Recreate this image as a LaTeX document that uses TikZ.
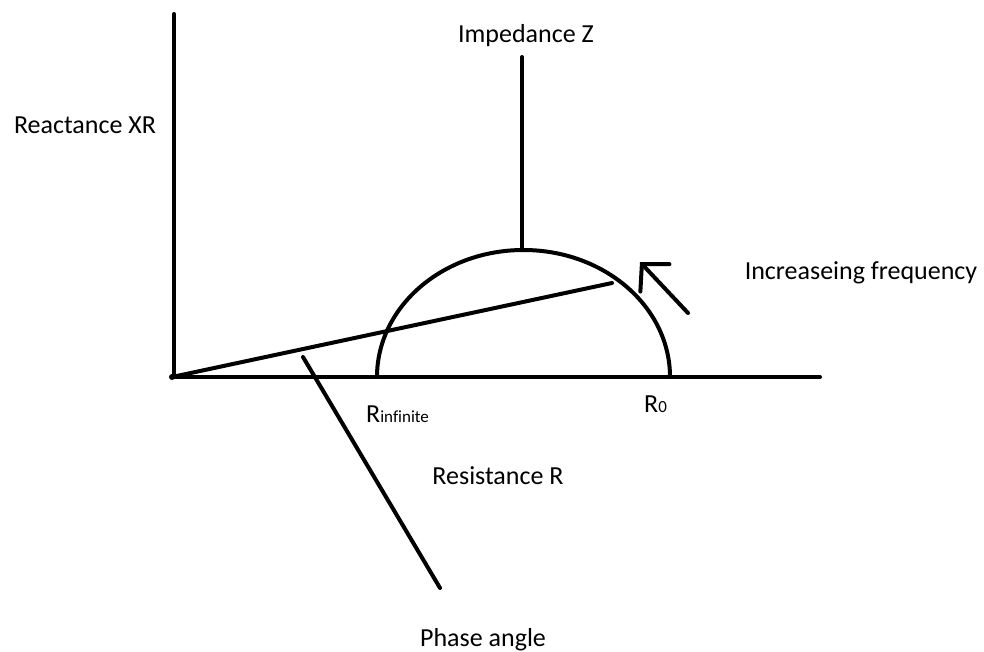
\documentclass[tikz,border=0pt]{standalone}
\usepackage{fontspec}
\setmainfont[Ligatures=NoCommon]{Carlito}
\usetikzlibrary{arrows.meta}
\newcommand{\lblsmall}{\fontsize{17}{20}\selectfont}

\begin{document}
\begin{tikzpicture}[
  x=1pt, y=-1pt,
  every node/.style={inner sep=0pt, font=\fontsize{26}{30}\selectfont},
  curve/.style={line width=4pt, line cap=round, line join=round}
]
\useasboundingbox (0,0) rectangle (984,652);
% axes
\coordinate (origin) at (172,377);
\coordinate (ytop) at (174,14);
\coordinate (xend) at (820,377);
\coordinate (rinf) at (377,377);
\coordinate (rzero) at (670,377);
\coordinate (ztop) at (522,57);
\coordinate (zbot) at (522,250);
\coordinate (vecend) at (612,283);
\coordinate (phasea) at (303,357);
\coordinate (phaseb) at (440,588);
\coordinate (arrtail) at (688,313);
\coordinate (arrtip) at (640,262);
\draw[curve] (ytop) -- (174,377);
\draw[curve] (origin) -- (xend);
\fill (origin) circle[radius=3pt];
% semicircle
\draw[curve] (rinf) arc[start angle=180, end angle=0, x radius=146.5pt, y radius=127pt];
\draw[curve] (ztop) -- (zbot);
\draw[curve] (origin) -- (vecend);
\draw[curve] (phasea) -- (phaseb);
\draw[curve, -{Straight Barb[length=19pt, width=40pt, line cap=round]}] (arrtail) -- (arrtip);
% labels
\node (react) at (85,125) {Reactance XR};
\node (imped) at (526,36) {Impedance Z};
\node (freq) at (861,273) {Increaseing frequency};
\node[anchor=base west] (rinflbl) at (366,422) {R{\lblsmall infinite}};
\node[anchor=base west] (rzerolbl) at (644,412) {R{\lblsmall 0}};
\node (resist) at (498,476) {Resistance R};
\node (phase) at (483,640) {Phase angle};
\end{tikzpicture}
\end{document}
